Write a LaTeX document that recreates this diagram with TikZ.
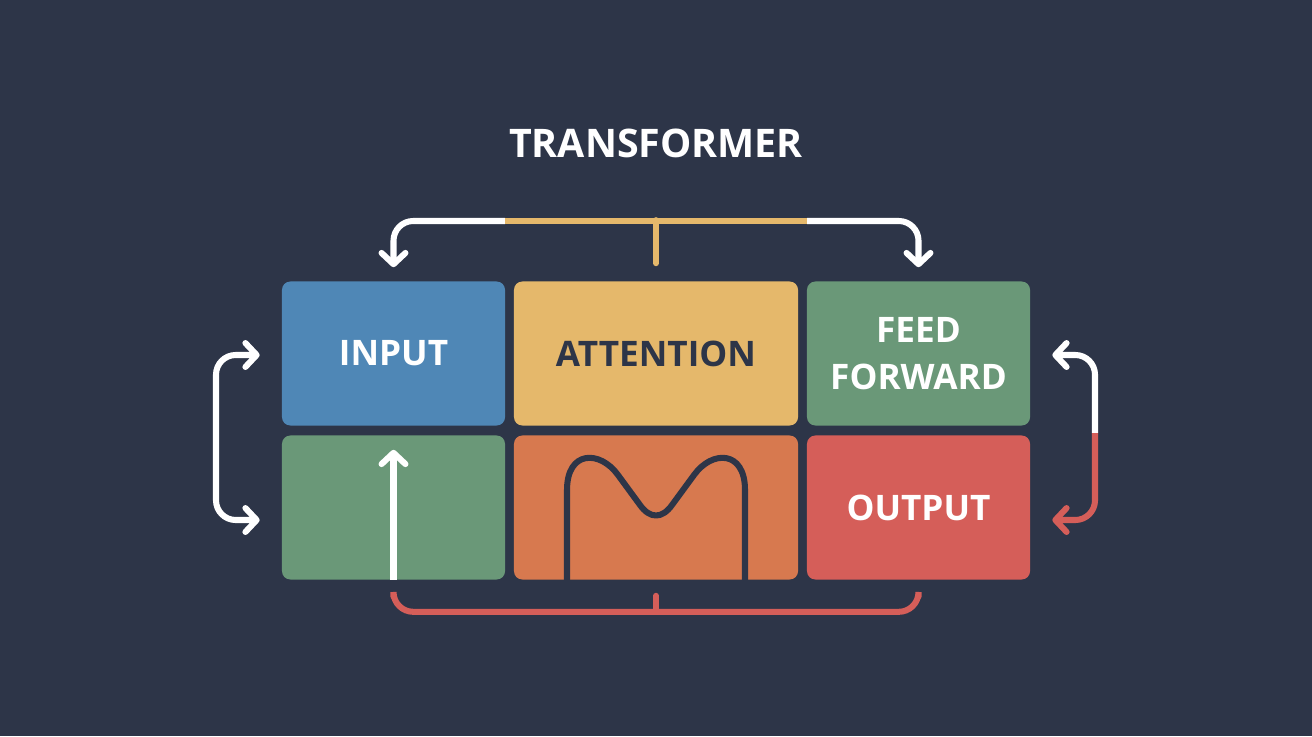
\documentclass[tikz,border=0pt]{standalone}
\usepackage{fontspec}
\setmainfont{Open Sans}
\usepackage{xcolor}
\usepackage{tikz}
\usetikzlibrary{positioning,calc,arrows.meta}

\definecolor{bgdark}{HTML}{2D3548}
\definecolor{cblue}{HTML}{4F87B6}
\definecolor{cyellow}{HTML}{E5B86B}
\definecolor{cgreen}{HTML}{6A9878}
\definecolor{corange}{HTML}{D7794F}
\definecolor{cred}{HTML}{D55E59}

\tikzset{
    box/.style={rounded corners=6pt, minimum height=3.6cm, inner sep=0pt, align=center,
        font=\fontsize{25}{33}\selectfont\bfseries},
    wline/.style={draw=white, line width=4.3pt},
    yline/.style={draw=cyellow, line width=4.3pt},
    rline/.style={draw=cred, line width=4.3pt},
    dline/.style={draw=bgdark, line width=4.3pt, line join=round}
}

\begin{document}
\begin{tikzpicture}[x=0.025cm, y=-0.025cm, >={Straight Barb[length=8pt,width=17pt,round]}]
    % Background
    \fill[bgdark] (0,0) rectangle (1312,736);
    \useasboundingbox (0,0) rectangle (1312,736);

    % Title
    \node[text=white, font=\fontsize{28}{34}\selectfont\bfseries] (title) at (656,143) {TRANSFORMER};

    % Blocks
    \foreach \name/\x/\y/\w/\col/\tcol/\txt in {input/393.5/353.5/5.575/cblue/white/INPUT,
            attention/656/353.5/7.1/cyellow/bgdark/ATTENTION,
            feedfwd/918.5/353.5/5.575/cgreen/white/{FEED\\FORWARD},
            lowgreen/393.5/507.5/5.575/cgreen/white/{},
            wave/656/507.5/7.1/corange/white/{},
            output/918.5/507.5/5.575/cred/white/OUTPUT}
        \node[box, fill=\col, text=\tcol, minimum width=\w cm] (\name) at (\x,\y) {\txt};

    % Top connector
    \coordinate (topL) at (505,221);
    \coordinate (topR) at (807,221);
    \draw[wline, ->, rounded corners=14] (topL) -| ($(input.north)+(0,-14)$);
    \draw[wline, ->, rounded corners=14] (topR) -| ($(feedfwd.north)+(0,-14)$);
    \draw[yline] (topL) -- (topR);
    \draw[yline, line cap=round] ($(attention.north)+(0,-61)$) -- ($(attention.north)+(0,-18)$);

    % Left loop
    \coordinate (lbend) at (216,437);
    \draw[wline, <->, rounded corners=14] ($(input.west)+(-22,1.5)$) -| (lbend) |- ($(lowgreen.west)+(-22,12.5)$);

    % Right loop
    \coordinate (rmid) at (1095,433);
    \draw[wline, ->, rounded corners=14] (rmid) |- ($(feedfwd.east)+(22,1.5)$);
    \draw[rline, ->, rounded corners=14] (rmid) |- ($(output.east)+(22,12.5)$);

    % Up arrow
    \draw[wline, ->] (lowgreen.south) -- ($(lowgreen.south)+(0,-130)$);

    % Wave
    \draw[dline] (567,580) -- (567,490) .. controls (567,450) and (600,450) .. (618,475)
        -- (640,505) .. controls (650,519) and (662,519) .. (672,505)
        -- (694,475) .. controls (712,450) and (745,450) .. (745,490) -- (745,580);

    % Bottom bracket
    \draw[rline, line cap=round, rounded corners=14] ($(lowgreen.south)+(0,17)$) |- ($(wave.south)+(0,32)$) -| ($(output.south)+(0,17)$);
    \draw[rline, line cap=round] ($(wave.south)+(0,32)$) -- ($(wave.south)+(0,16)$);
\end{tikzpicture}
\end{document}
